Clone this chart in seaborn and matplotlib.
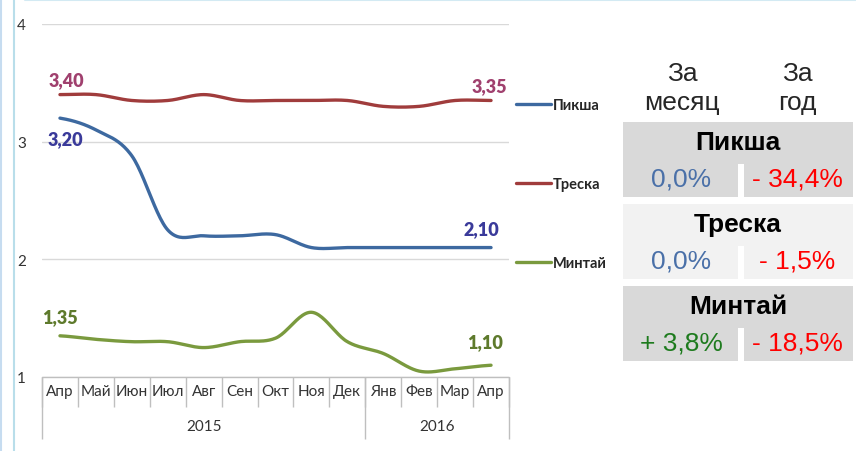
import numpy as np
import pandas as pd
import matplotlib
matplotlib.use("Agg")
import matplotlib.pyplot as plt
import seaborn as sns
from matplotlib.patches import Rectangle
from matplotlib.transforms import blended_transform_factory

# ---- data ----
months = ["Апр", "Май", "Июн", "Июл", "Авг", "Сен", "Окт",
          "Ноя", "Дек", "Янв", "Фев", "Мар", "Апр"]
years = ["2015", "2016"]
months_per_year = [9, 4]
species = ["Пикша", "Треска", "Минтай"]
piksha = [3.20, 3.10, 2.88, 2.25, 2.20, 2.20, 2.21, 2.10, 2.10, 2.10, 2.10, 2.10, 2.10]
treska = [3.40, 3.40, 3.35, 3.35, 3.40, 3.35, 3.35, 3.35, 3.35, 3.30, 3.30, 3.35, 3.35]
mintai = [1.35, 1.32, 1.30, 1.30, 1.25, 1.30, 1.33, 1.55, 1.30, 1.20, 1.05, 1.07, 1.10]
month_change = ["0,0%", "0,0%", "+ 3,8%"]
year_change = ["- 34,4%", "- 1,5%", "- 18,5%"]

line_colors = {"Пикша": "#3D69A0", "Треска": "#A03C3C", "Минтай": "#7A9A3E"}
label_colors = {"Пикша": "#3A3A9A", "Треска": "#A0406E", "Минтай": "#5E7A2C"}
month_colors = ["#4A70A8", "#4A70A8", "#1E7B1E"]
row_fill = ["#D9D9D9", "#F2F2F2", "#D9D9D9"]

W, H, DPI = 856, 452, 100


def smooth(values, n=24):
    """Catmull-Rom curve through the points (close to Excel's smoothed line)."""
    y = np.asarray(values, dtype=float)
    p = np.concatenate([[y[0]], y, [y[-1]]])
    xs, ys = [], []
    t = np.linspace(0, 1, n, endpoint=False)
    for i in range(len(y) - 1):
        p0, p1, p2, p3 = p[i], p[i + 1], p[i + 2], p[i + 3]
        seg = 0.5 * (2 * p1 + (-p0 + p2) * t
                     + (2 * p0 - 5 * p1 + 4 * p2 - p3) * t ** 2
                     + (-p0 + 3 * p1 - 3 * p2 + p3) * t ** 3)
        xs.extend(i + t)
        ys.extend(seg)
    xs.append(len(y) - 1)
    ys.append(y[-1])
    return np.array(xs), np.array(ys)


series = dict(zip(species, [piksha, treska, mintai]))
frames = []
for name, vals in series.items():
    sx, sy = smooth(vals)
    frames.append(pd.DataFrame({"x": sx, "price": sy, "species": name}))
df = pd.concat(frames, ignore_index=True)

sns.set_theme(style="white")
plt.rcParams["font.family"] = ["Lato", "DejaVu Sans"]

fig = plt.figure(figsize=(W / DPI, H / DPI), dpi=DPI)

# background overlay in pixel coordinates (frame + table)
bg = fig.add_axes([0, 0, 1, 1], zorder=0)
bg.set_xlim(0, W)
bg.set_ylim(H, 0)
bg.axis("off")
bg.plot([1, 1], [0, H], color="#C6DCF0", lw=1.5)
bg.plot([14, 14], [0, H], color="#B9DEEA", lw=1.5)
bg.plot([25, W], [1, 1], color="#D3EAF3", lw=1.5)

# main chart
left, right, top, bottom = 42, 509, 25, 378
ax = fig.add_axes([left / W, 1 - bottom / H, (right - left) / W, (bottom - top) / H], zorder=1)
sns.lineplot(data=df, x="x", y="price", hue="species", hue_order=species,
             palette=line_colors, linewidth=2.4, estimator=None, sort=False, ax=ax)

ax.set_xlim(-0.5, len(months) - 0.5)
ax.set_ylim(1, 4)
ax.set_yticks([1, 2, 3, 4])
ax.set_yticklabels(["1", "2", "3", "4"])
ax.set_xticks(range(len(months)))
ax.set_xticklabels(months)
ax.set_xlabel("")
ax.set_ylabel("")
ax.tick_params(axis="x", length=0, pad=5, labelsize=11, colors="#333333")
ax.tick_params(axis="y", length=0, pad=18, labelsize=11, colors="#333333")
for lab in ax.get_yticklabels():
    lab.set_horizontalalignment("left")
ax.yaxis.grid(True, color="#D9D9D9", lw=1)
ax.xaxis.grid(False)
for s in ax.spines.values():
    s.set_visible(False)
ax.axhline(1, color="#BFBFBF", lw=1, clip_on=False)

# two-level category axis
trans = blended_transform_factory(ax.transData, ax.transAxes)
ph = bottom - top
edges = np.arange(len(months) + 1) - 0.5
ax.vlines(edges, 0, -30 / ph, transform=trans, clip_on=False, color="#BFBFBF", lw=1)
bounds = np.concatenate([[0], np.cumsum(months_per_year)]) - 0.5
ax.vlines(bounds, 0, -62 / ph, transform=trans, clip_on=False, color="#BFBFBF", lw=1)
for yr, a, b in zip(years, bounds[:-1], bounds[1:]):
    ax.text((a + b) / 2, -49 / ph, yr, transform=trans, ha="center", va="center",
            fontsize=11, color="#333333")

# data labels at first and last point
fmt = lambda v: f"{v:.2f}".replace(".", ",")
offsets = {"Пикша": [(4, -15), (-7, 14)],
           "Треска": [(5, 10.5), (-1, 10.5)],
           "Минтай": [(0, 14), (-4, 17)]}
for name, vals in series.items():
    for (i, (dx, dy)) in zip([0, len(vals) - 1], offsets[name]):
        ax.annotate(fmt(vals[i]), xy=(i, vals[i]), xytext=(dx, dy),
                    textcoords="offset points", ha="center", va="center",
                    fontsize=13, fontweight="heavy", color=label_colors[name])

# legend
old = ax.get_legend()
handles = old.legend_handles
labels = [t.get_text() for t in old.get_texts()]
for h in handles:
    h.set_linewidth(2.4)
ax.legend(handles, labels, loc="upper left", bbox_to_anchor=(516 / W, 1 - 99 / H),
          bbox_transform=fig.transFigure, frameon=False, borderpad=0, borderaxespad=0,
          handlelength=2.4, handletextpad=0.1, labelspacing=4.45,
          prop={"weight": "bold", "size": 10.5})

# summary table on the right
tfont = "Liberation Sans"
fs = 19
for cx, head in zip([682, 797], [("За", "месяц"), ("За", "год")]):
    bg.text(cx, 74, head[0], ha="center", va="center", fontsize=fs, family=tfont)
    bg.text(cx, 103, head[1], ha="center", va="center", fontsize=fs, family=tfont)

row_tops = [123, 205, 287]
for k, name in enumerate(species):
    t0 = row_tops[k]
    bg.add_patch(Rectangle((623, t0), 230, 75, facecolor=row_fill[k], edgecolor="none"))
    bg.add_patch(Rectangle((738, t0 + 42), 6, 34, facecolor="white", edgecolor="none"))
    bg.text(738, t0 + 20, name, ha="center", va="center", fontsize=fs,
            fontweight="bold", family=tfont, color="black")
    bg.text(681, t0 + 57, month_change[k], ha="center", va="center", fontsize=fs,
            family=tfont, color=month_colors[k])
    bg.text(797, t0 + 57, year_change[k], ha="center", va="center", fontsize=fs,
            family=tfont, color="#FF0000")

fig.savefig("out.png", dpi=DPI, facecolor="white")
